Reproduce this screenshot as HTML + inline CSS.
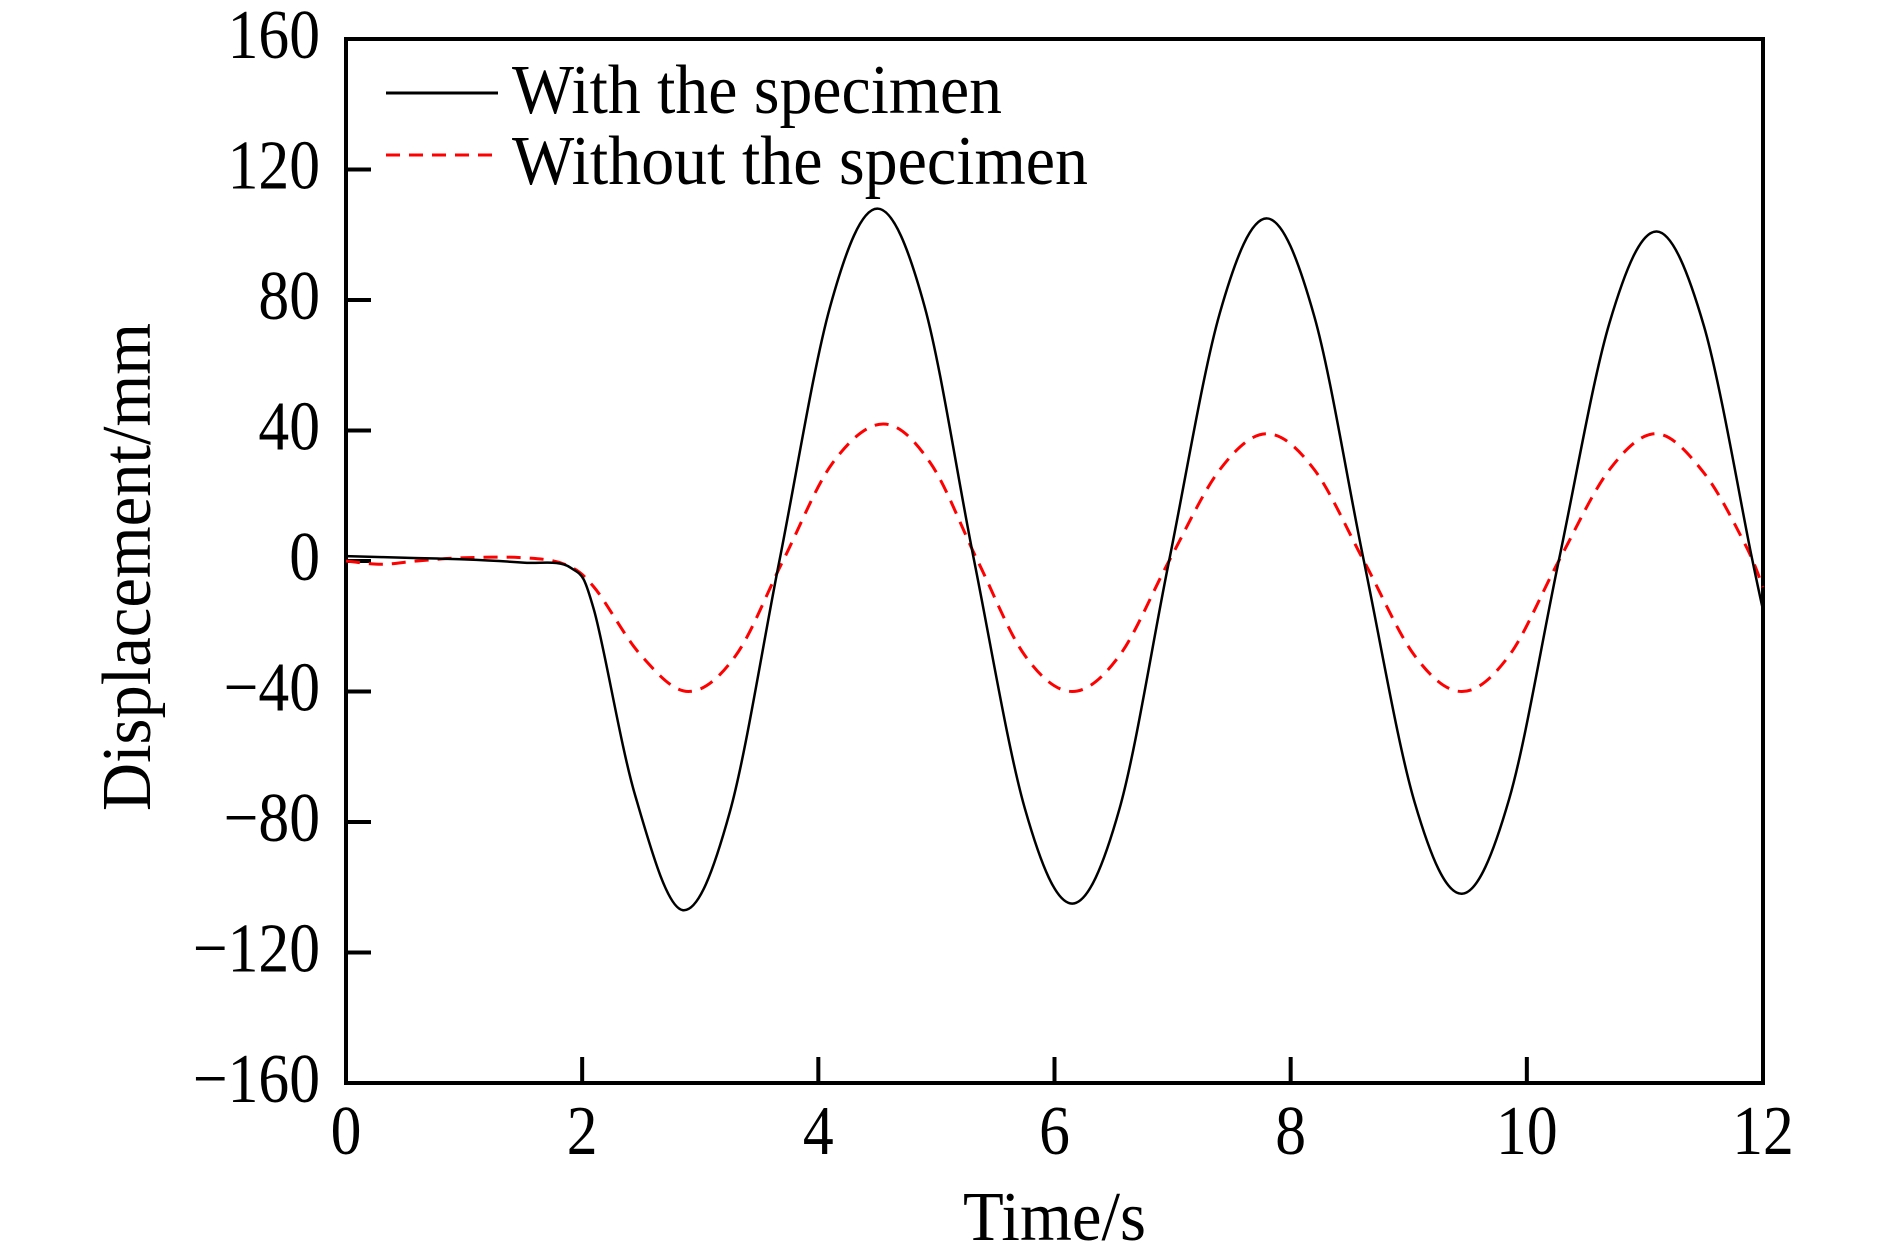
<!DOCTYPE html>
<html><head><meta charset="utf-8"><style>
html,body{margin:0;padding:0;background:#fff;}
svg{display:block;font-family:"Liberation Serif",serif;}
</style></head><body>
<svg id="chart" width="1890" height="1245" viewBox="0 0 1890 1245" xmlns="http://www.w3.org/2000/svg">
<g id="axes"></g>
<g id="series"></g>
<g>
  <line x1="386" y1="93" x2="498" y2="93" stroke="#000" stroke-width="3"/>
  <text x="512" y="113" font-size="70" textLength="490" lengthAdjust="spacingAndGlyphs">With the specimen</text>
  <line x1="386" y1="155" x2="498" y2="155" stroke="#ff0000" stroke-width="3" stroke-dasharray="14 9"/>
  <text x="512" y="184" font-size="70" textLength="576" lengthAdjust="spacingAndGlyphs">Without the specimen</text>
</g>
<text x="963" y="1240" font-size="70" textLength="183" lengthAdjust="spacingAndGlyphs">Time/s</text>
<text transform="translate(150,811) rotate(-90)" x="0" y="0" font-size="70" textLength="488" lengthAdjust="spacingAndGlyphs">Displacement/mm</text>
</svg>
<script>
const xTicks = [0, 2, 4, 6, 8, 10, 12];
const yTicks = [-160, -120, -80, -40, 0, 40, 80, 120, 160];
const withT = [0,0.5,1,1.5,1.9,2.1,2.45,2.85,3.25,3.67,4.1,4.5,4.9,5.32,5.75,6.15,6.55,6.97,7.4,7.8,8.2,8.62,9.05,9.45,9.85,10.27,10.7,11.1,11.5,11.9,12];
const withV = [1.5,1,0.5,-0.5,-2,-15,-72,-107,-77,0,78,108,78,0,-76,-105,-76,0,76,105,75,0,-74,-102,-73,0,73,101,72,2,-15];
const withoutT = [0,0.3,0.6,1,1.5,1.85,2.1,2.5,2.9,3.3,3.7,4.12,4.55,4.95,5.35,5.75,6.15,6.55,6.97,7.4,7.8,8.2,8.62,9.05,9.45,9.85,10.27,10.7,11.1,11.5,11.85,12];
const withoutV = [0,-1,0,1,1,-1,-8,-29,-40,-29,0,30,42,30,0,-29,-40,-29,0,28,39,28,0,-29,-40,-29,0,28,39,27,5,-8];

const X0=346, X1=1763, Y0=1083, Y1=39;
const sx = t => X0 + (t - 0) / 12 * (X1 - X0);
const sy = v => Y0 - (v + 160) / 320 * (Y0 - Y1);
const NS = "http://www.w3.org/2000/svg";
const axes = document.getElementById('axes');
const series = document.getElementById('series');
function mk(tag, attrs, parent){const e=document.createElementNS(NS,tag);for(const k in attrs)e.setAttribute(k,attrs[k]);parent.appendChild(e);return e;}

const frame = mk('rect',{x:X0,y:Y1,width:X1-X0,height:Y0-Y1,fill:'none',stroke:'#000','stroke-width':4},axes);



xTicks.forEach(t=>{
  const x=sx(t);
  const tk=mk('line',{x1:x,y1:Y0,x2:x,y2:Y0-26,stroke:'#000','stroke-width':4},axes);
  
  
  const lb=mk('text',{transform:`translate(${x},1154) scale(0.88,1)`,'font-size':70,'text-anchor':'middle'},axes);
  lb.textContent=String(t);
  
  
});
yTicks.forEach(v=>{
  const y=sy(v);
  const tk=mk('line',{x1:X0,y1:y,x2:X0+25,y2:y,stroke:'#000','stroke-width':4},axes);
  
  
  const lb=mk('text',{transform:`translate(320,${y+19}) scale(0.88,1)`,'font-size':70,'text-anchor':'end'},axes);
  lb.textContent=(v<0?'\u2212':'')+Math.abs(v);
  
  
});

function curve(ts,vs){
  const p=ts.map((t,i)=>[sx(t),sy(vs[i])]);
  let d=`M${p[0][0]},${p[0][1]}`;
  for(let i=0;i<p.length-1;i++){
    const a=p[Math.max(0,i-1)],b=p[i],c=p[i+1],e=p[Math.min(p.length-1,i+2)];
    const c1=[b[0]+(c[0]-a[0])/6,b[1]+(c[1]-a[1])/6];
    const c2=[c[0]-(e[0]-b[0])/6,c[1]-(e[1]-b[1])/6];
    d+=` C${c1[0]},${c1[1]} ${c2[0]},${c2[1]} ${c[0]},${c[1]}`;
  }
  return d;
}
const lineWithout=mk('path',{d:curve(withoutT,withoutV),fill:'none',stroke:'#ff0000','stroke-width':3,'stroke-dasharray':'14 9'},series);


const lineWith=mk('path',{d:curve(withT,withV),fill:'none',stroke:'#000','stroke-width':2.5},series);


</script>
</body></html>
